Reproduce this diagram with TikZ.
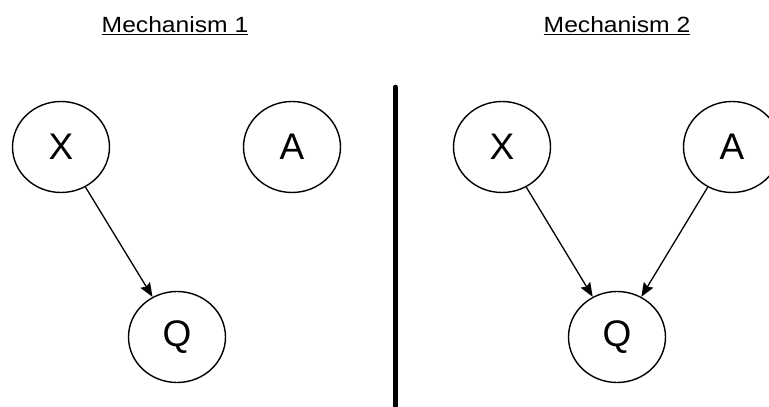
\documentclass[tikz,border=0pt]{standalone}
\usepackage{fontspec}
\setmainfont{Liberation Sans}
\newfontfamily\titlefont[FakeStretch=1.12]{Liberation Sans}
\usetikzlibrary{arrows.meta,shapes.geometric}
\tikzset{
  var/.style={draw,ellipse,line width=1.4pt,minimum width=97pt,minimum height=91pt,
              inner sep=0pt,font=\fontsize{37}{40}\selectfont},
  cause/.style={-{Stealth[length=14pt,width=11pt,inset=2pt]},line width=1.3pt},
  ttl/.style={font=\titlefont\fontsize{22}{26}\selectfont,anchor=base,inner sep=0pt},
}
\begin{document}
\begin{tikzpicture}[x=1pt,y=1pt]
\useasboundingbox (0,0) rectangle (769,407);

% Mechanism 1
\node[ttl] (t1) at (175,374) {\underline{Mechanism 1}};
\node[var] (x1) at (61,260) {X};
\node[var] (a1) at (292,260) {A};
\node[var] (q1) at (177,70) {Q};
\draw[cause] (x1) -- (q1);

% divider
\coordinate (top) at (395.5,320);
\coordinate (bot) at (395.5,0);
\draw[line width=4.5pt,line cap=round] (top) -- (bot);

% Mechanism 2
\node[ttl] (t2) at (617,374) {\underline{Mechanism 2}};
\node[var] (x2) at (502,260) {X};
\node[var] (a2) at (732,260) {A};
\node[var] (q2) at (617,70) {Q};
\draw[cause] (x2) -- (q2);
\draw[cause] (a2) -- (q2);

\end{tikzpicture}
\end{document}
